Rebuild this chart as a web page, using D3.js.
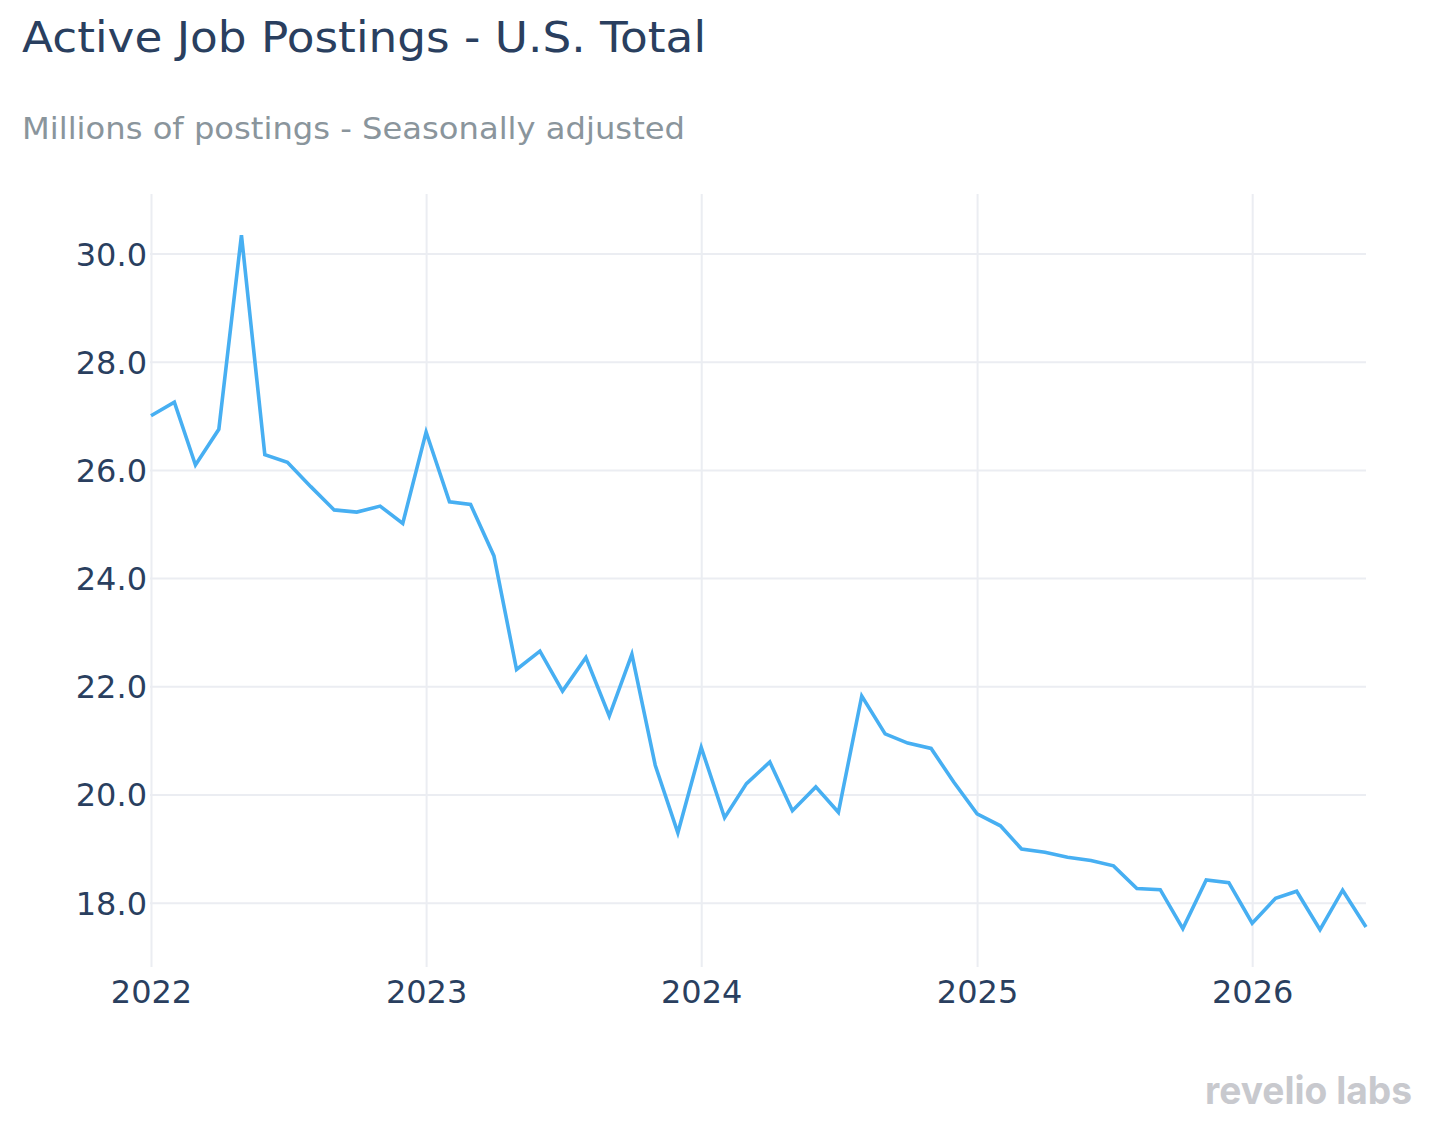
<!DOCTYPE html>
<html>
<head>
<meta charset="utf-8">
<script src="https://cdn.jsdelivr.net/npm/d3@7"></script>
<style>
  html, body { margin: 0; padding: 0; background: #fff; }
  svg { display: block; }
</style>
</head>
<body>
<svg id="chart" width="1436" height="1128"></svg>
<script>
const titleText = "Active Job Postings - U.S. Total";
const subtitleText = "Millions of postings - Seasonally adjusted";
const logoText = "revelio labs";

const months = [
  "2022-01","2022-02","2022-03","2022-04","2022-05","2022-06","2022-07","2022-08","2022-09","2022-10","2022-11","2022-12",
  "2023-01","2023-02","2023-03","2023-04","2023-05","2023-06","2023-07","2023-08","2023-09","2023-10","2023-11","2023-12",
  "2024-01","2024-02","2024-03","2024-04","2024-05","2024-06","2024-07","2024-08","2024-09","2024-10","2024-11","2024-12",
  "2025-01","2025-02","2025-03","2025-04","2025-05","2025-06","2025-07","2025-08","2025-09","2025-10","2025-11","2025-12",
  "2026-01","2026-02","2026-03","2026-04","2026-05","2026-06"
];
const postings = [
  27.00, 27.25, 26.09, 26.75, 30.34, 26.28, 26.14, 25.69, 25.26, 25.22, 25.33, 25.01,
  26.70, 25.41, 25.36, 24.41, 22.31, 22.65, 21.91, 22.53, 21.45, 22.59, 20.54, 19.29,
  20.87, 19.57, 20.20, 20.60, 19.70, 20.14, 19.67, 21.82, 21.12, 20.95, 20.85, 20.23,
  19.64, 19.42, 18.99, 18.93, 18.84, 18.78, 18.68, 18.26, 18.24, 17.52, 18.42, 18.37,
  17.62, 18.08, 18.21, 17.50, 18.23, 17.55
];
const yTicks = [18, 20, 22, 24, 26, 28, 30];
const xTickYears = ["2022", "2023", "2024", "2025", "2026"];
const yDomain = [16.81, 31.10];

(function () {
const parseMonth = d3.timeParse("%Y-%m");
const parseYear = d3.timeParse("%Y");
const data = months.map((m, i) => ({ date: parseMonth(m), value: postings[i] }));

const svg = d3.select("#chart");
const pL = 151, pR = 1366, pT = 194, pB = 967;
const font = "'DejaVu Sans', Verdana, sans-serif";
const textColor = "#2a3f5f";
const gridColor = "#ebedf2";

const x = d3.scaleTime()
  .domain([parseMonth(months[0]), parseMonth(months[months.length - 1])])
  .range([pL, pR]);
const y = d3.scaleLinear().domain(yDomain).range([pB, pT]);

// title & subtitle
svg.append("text").attr("x", 22).attr("y", 52)
  .attr("font-family", font).attr("font-size", 43).attr("fill", textColor)
  .attr("textLength", 684).attr("lengthAdjust", "spacingAndGlyphs")
  .text(titleText);
svg.append("text").attr("x", 22).attr("y", 139)
  .attr("font-family", font).attr("font-size", 31).attr("fill", "#8a959c")
  .attr("textLength", 663).attr("lengthAdjust", "spacingAndGlyphs")
  .text(subtitleText);

// y axis (gridlines + labels)
const yAxis = d3.axisLeft(y).tickValues(yTicks).tickFormat(d3.format(".1f"))
  .tickSize(-(pR - pL + 1)).tickPadding(4);
const gy = svg.append("g").attr("transform", `translate(${pL - 1},0)`).call(yAxis);
gy.select(".domain").remove();
gy.selectAll(".tick line").attr("stroke", gridColor).attr("stroke-width", 2);
gy.selectAll(".tick text").attr("font-family", font).attr("font-size", 32)
  .attr("fill", textColor).attr("x", -3).attr("dy", "0.36em");

// x axis (gridlines + labels)
const xAxis = d3.axisBottom(x).tickValues(xTickYears.map(parseYear))
  .tickFormat(d3.timeFormat("%Y")).tickSize(-(pB - pT)).tickPadding(13);
const gx = svg.append("g").attr("transform", `translate(0,${pB})`).call(xAxis);
gx.select(".domain").remove();
gx.selectAll(".tick line").attr("stroke", gridColor).attr("stroke-width", 2);
gx.selectAll(".tick text").attr("font-family", font).attr("font-size", 32)
  .attr("fill", textColor).attr("dy", "0.71em");

// line
const line = d3.line().x(d => x(d.date)).y(d => y(d.value));
svg.append("path").datum(data)
  .attr("d", line)
  .attr("fill", "none")
  .attr("stroke", "#47aff2")
  .attr("stroke-width", 3.6)
  .attr("stroke-linejoin", "miter");

// logo
svg.append("text").attr("x", 1205).attr("y", 1104)
  .attr("font-family", "Inter, 'Open Sans', sans-serif").attr("font-weight", 700)
  .attr("font-size", 38).attr("fill", "#c8c9ce")
  .attr("textLength", 207).attr("lengthAdjust", "spacingAndGlyphs")
  .text(logoText);
})();
</script>
</body>
</html>
